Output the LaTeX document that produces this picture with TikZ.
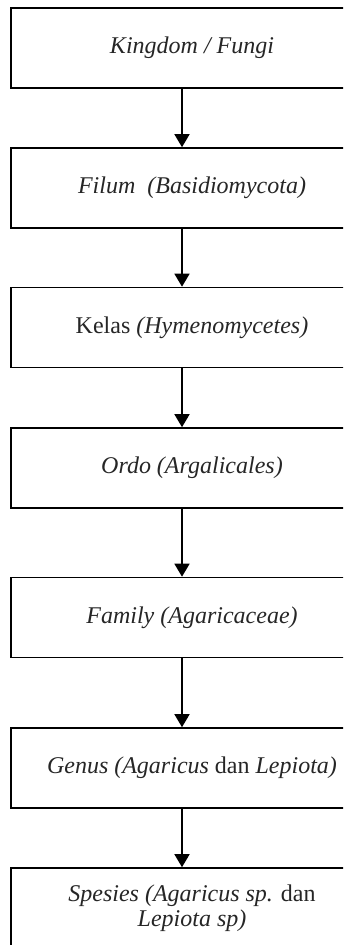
\documentclass[tikz,border=0pt]{standalone}
\usepackage{fontspec}
\setmainfont{Liberation Serif}
\usetikzlibrary{arrows.meta}
\begin{document}
\begin{tikzpicture}[x=1pt,y=-1pt,
  taxbox/.style={draw=black,line width=1.6pt,minimum width=362pt,minimum height=80pt,
    inner sep=0pt,align=center,text=black!85,font=\fontsize{24}{24.5}\selectfont},
  arr/.style={line width=1.6pt,-{Triangle[width=15pt,length=13pt]}}]
\clip (0,0) rectangle (343,945);
\fill[white] (0,0) rectangle (343,945);
\coordinate (ax) at (182,0);
\node[taxbox] (b1) at (192,48) {\itshape Kingdom / Fungi};
\node[taxbox] (b2) at (192,188) {\itshape Filum\ \ (Basidiomycota)};
\node[taxbox] (b3) at (192,327.5) {Kelas \textit{(Hymenomycetes)}};
\node[taxbox] (b4) at (192,468) {\itshape Ordo (Argalicales)};
\node[taxbox] (b5) at (192,617.5) {\itshape Family (Agaricaceae)};
\node[taxbox] (b6) at (192,768) {\textit{Genus (Agaricus} dan \textit{Lepiota)}};
\node[taxbox] (b7) at (192,908) {\textit{Spesies (Agaricus sp.} dan\\\textit{Lepiota sp)}};
\draw[arr] (b1.south -| ax) -- (b2.north -| ax);
\draw[arr] (b2.south -| ax) -- (b3.north -| ax);
\draw[arr] (b3.south -| ax) -- (b4.north -| ax);
\draw[arr] (b4.south -| ax) -- (b5.north -| ax);
\draw[arr] (b5.south -| ax) -- (b6.north -| ax);
\draw[arr] (b6.south -| ax) -- (b7.north -| ax);
\end{tikzpicture}
\end{document}
